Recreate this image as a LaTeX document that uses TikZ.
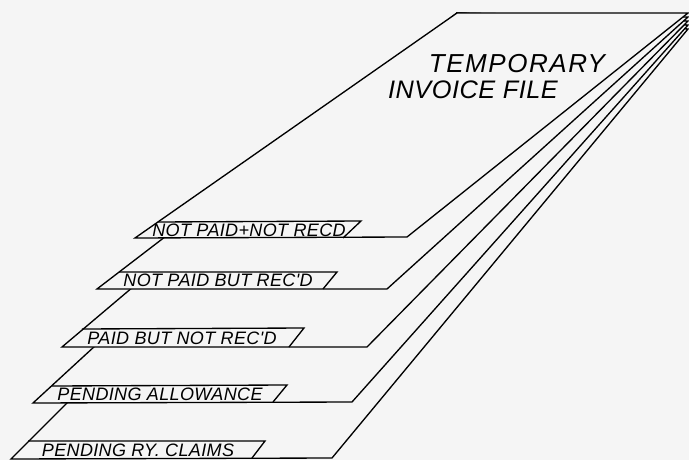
\documentclass[tikz,border=0pt]{standalone}
\usepackage{fontspec}
\newfontfamily\letterfont[LetterSpace=6]{Liberation Sans}
\newfontfamily\tabfont[LetterSpace=2]{Liberation Sans}
\definecolor{paper}{RGB}{245,245,245}
\tikzset{
  sheet/.style={draw=black,line width=1pt,fill=paper,line join=miter},
  tabedge/.style={draw=black,line width=1pt},
  tablabel/.style={inner sep=0.75pt,font=\tabfont\itshape\fontsize{13.5}{13.5}\selectfont},
  titlelabel/.style={inner sep=0.75pt,font=\letterfont\itshape\fontsize{19}{19}\selectfont}
}
\begin{document}
\begin{tikzpicture}[x=0.75pt,y=0.75pt,yscale=-1,xscale=1]
\useasboundingbox (0,0) rectangle (689,460);
\fill[paper] (0,0) rectangle (689,460);

%Shape: Sheet 5 [id:sheet4]
\draw [sheet] (457,13) -- (688,29) -- (332,458) -- (11,459) -- cycle ;
\draw [tabedge] (28,441) -- (265,441) -- (252,458) ;
%Shape: Sheet 4 [id:sheet3]
\draw [sheet] (457,13) -- (688,25) -- (352,402) -- (33,403) -- cycle ;
\draw [tabedge] (52,386) -- (287,385) -- (273,402) ;
%Shape: Sheet 3 [id:sheet2]
\draw [sheet] (457,13) -- (688,21) -- (367,347) -- (62,347) -- cycle ;
\draw [tabedge] (82,329) -- (304,328) -- (289,347) ;
%Shape: Sheet 2 [id:sheet1]
\draw [sheet] (457,13) -- (688,17) -- (387,289) -- (97,289) -- cycle ;
\draw [tabedge] (119,272) -- (337,272) -- (323,289) ;
%Shape: Sheet 1 [id:sheet0]
\draw [sheet] (457,13) -- (688,13) -- (407,237) -- (135,238) -- cycle ;
\draw [tabedge] (158,222) -- (361,221) -- (343,238) ;

% Text Node
\node [titlelabel,font=\letterfont\itshape\fontsize{19.5}{19.5}\selectfont] (temporary) at (517,64) {TEMPORARY};
% Text Node
\node [titlelabel,font=\tabfont\itshape\fontsize{19}{19}\selectfont] (invoice) at (473,90) {INVOICE FILE};
% Text Node
\node [tablabel] (notpaidnotrecd) at (249,230) {NOT PAID+NOT RECD};
% Text Node
\node [tablabel] (notpaidrecd) at (218,280.5) {NOT PAID BUT REC'D};
% Text Node
\node [tablabel] (paidnotrecd) at (182,338) {PAID BUT NOT REC'D};
% Text Node
\node [tablabel] (allowance) at (160,394) {PENDING ALLOWANCE};
% Text Node
\node [tablabel] (claims) at (138,450) {PENDING RY. CLAIMS};

\end{tikzpicture}
\end{document}
